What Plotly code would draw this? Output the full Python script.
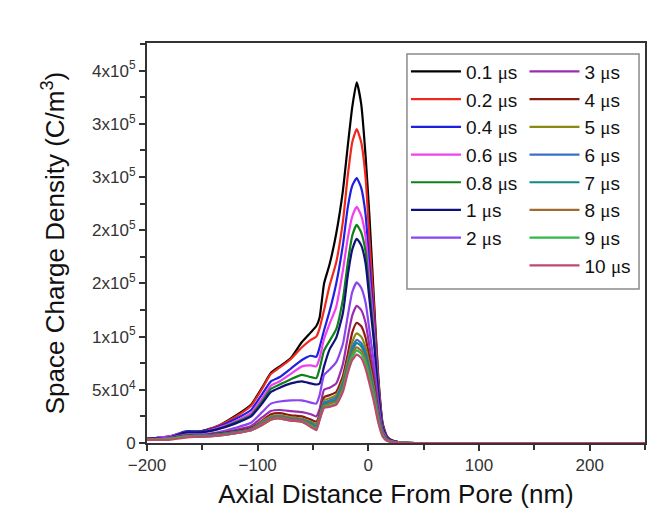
import plotly.graph_objects as go

# axial distance (nm) and space charge density (in 10^3 C/m^3)
x_nm = [-200, -180, -165, -151, -136, -121, -106, -96, -88, -80, -70, -60, -52, -47, -44, -40, -35,
        -29, -23, -18.5, -14.5, -10.5, -6.5, -2.5, 1, 5, 9, 13, 17, 22, 29, 42, 250]

t01 = [4, 6, 10, 11, 16, 25, 36, 52, 66, 72, 80, 95, 104, 110, 118, 150, 168, 197, 237, 280, 316, 339, 319, 270, 213, 136, 62, 18, 6, 2, 0.5, 0, 0]
t02 = [4, 6, 10, 11, 16, 24, 35, 51, 65, 71, 79, 90, 97, 100, 108, 125, 148, 170, 208, 252, 283, 295, 283, 250, 192, 128, 60, 17, 6, 2, 0.5, 0, 0]
t04 = [4, 6, 11, 11, 15, 22, 31, 46, 58, 62, 70, 78, 82, 81, 90, 106, 124, 150, 186, 222, 242, 249, 240, 215, 168, 116, 55, 16, 5, 2, 0.5, 0, 0]
t06 = [4, 6, 10, 10, 14, 20, 28, 42, 54, 58, 65, 72, 73, 72, 80, 98, 112, 128, 162, 193, 213, 222, 214, 194, 153, 108, 52, 15, 5, 2, 0.5, 0, 0]
t08 = [4, 5, 10, 10, 13, 19, 26, 39, 51, 55, 60, 64, 62, 61, 70, 87, 96, 107, 135, 170, 195, 205, 198, 180, 143, 101, 49, 15, 5, 2, 0.5, 0, 0]
t1 = [4, 5, 10, 10, 13, 18, 25, 37, 48, 52, 56, 58, 56, 55, 56, 72, 88, 99, 122, 158, 182, 192, 186, 169, 135, 96, 47, 14, 5, 2, 0.5, 0, 0]
t2 = [3, 5, 8, 8, 10, 14, 19, 29, 37, 39, 40, 40, 38, 37, 45, 64, 69, 76, 93, 120, 142, 151, 146, 132, 106, 76, 38, 12, 4, 1.5, 0.5, 0, 0]
t3 = [3, 4, 7, 7, 9, 12, 16, 24, 30, 31, 30, 29, 27, 25, 32, 50, 52, 56, 74, 100, 120, 129, 125, 113, 91, 65, 32, 10, 3, 1, 0.3, 0, 0]
t4 = [3, 4, 7, 7, 9, 11, 14, 21, 27, 28, 26, 25, 22, 20, 27, 43, 45, 48, 63, 84, 104, 113, 110, 99, 80, 57, 28, 9, 3, 1, 0.3, 0, 0]
t5 = [3, 4, 6, 7, 8, 10, 13, 20, 25, 26, 24, 23, 20, 18, 25, 40, 42, 45, 59, 78, 95, 103, 100, 90, 73, 52, 26, 9, 3, 1, 0.3, 0, 0]
t6 = [3, 4, 6, 7, 8, 10, 13, 19, 24, 25, 23, 22, 19, 16, 24, 38, 40, 43, 56, 74, 90, 97, 94, 85, 69, 49, 25, 8, 3, 1, 0.3, 0, 0]
t7 = [3, 4, 6, 6, 8, 10, 12, 18, 23, 24, 22, 21, 18, 15, 23, 37, 38, 41, 54, 72, 87, 94, 91, 82, 67, 47, 24, 8, 2, 1, 0.3, 0, 0]
t8 = [3, 4, 6, 6, 7, 9, 12, 18, 23, 24, 22, 21, 17, 14, 23, 35, 37, 39, 52, 70, 84, 90, 87, 78, 63, 45, 22, 7, 2, 1, 0.3, 0, 0]
t9 = [3, 4, 6, 6, 7, 9, 12, 17, 22, 23, 21, 20, 16, 13, 22, 34, 35, 37, 50, 68, 81, 87, 84, 75, 60, 43, 21, 7, 2, 1, 0.3, 0, 0]
t10 = [3, 3, 5, 6, 7, 9, 12, 17, 22, 23, 21, 20, 15, 12, 22, 33, 34, 36, 48, 66, 78, 83, 80, 70, 56, 39, 19, 6, 2, 1, 0.3, 0, 0]

times = ["0.1", "0.2", "0.4", "0.6", "0.8", "1", "2", "3", "4", "5", "6", "7", "8", "9", "10"]
series = [t01, t02, t04, t06, t08, t1, t2, t3, t4, t5, t6, t7, t8, t9, t10]
colors = ["#000000", "#f0281c", "#1f1fe0", "#f040f0", "#108018", "#10107a", "#8a44f0",
          "#9a2cb0", "#8a1a14", "#8a8a10", "#3a70c8", "#10888a", "#a06a30", "#30b848", "#c04870"]

ytick_vals = [0, 5e4, 1e5, 1.5e5, 2e5, 2.5e5, 3e5, 3.5e5]
ytick_text = ["0", "5x10<sup>4</sup>", "1x10<sup>5</sup>", "2x10<sup>5</sup>", "2x10<sup>5</sup>",
              "3x10<sup>5</sup>", "3x10<sup>5</sup>", "4x10<sup>5</sup>"]

MU = '<span style="font-family:Liberation Serif">\u03bc</span>'

fig = go.Figure()
for i, (t, ys, c) in enumerate(zip(times, series, colors)):
    fig.add_trace(go.Scatter(
        x=x_nm, y=[v * 1000 for v in ys], mode="lines",
        line=dict(color=c, width=2.2, shape="spline", smoothing=0.5),
        name=t + " " + MU + "s",
        legend="legend" if i < 7 else "legend2",
    ))

axis_col = "#333333"
leg_font = dict(family="Liberation Sans, Arial", size=19, color="#111111")

# the page body adds an 8px offset, so margins are shifted to compensate
fig.update_layout(
    width=661, height=516,
    margin=dict(l=139, r=24, t=35, b=81, autoexpand=False),
    paper_bgcolor="white", plot_bgcolor="white",
    font=dict(family="Liberation Sans, Arial", color="#222222"),
    xaxis=dict(
        range=[-200, 250], tickvals=[-200, -100, 0, 100, 200],
        ticks="outside", ticklen=6, tickwidth=1.5, tickcolor=axis_col,
        minor=dict(dtick=50, tick0=0, ticks="outside", ticklen=5, tickwidth=1.5, tickcolor=axis_col),
        showline=True, linecolor=axis_col, linewidth=2, mirror=True,
        showgrid=False, zeroline=False,
        tickfont=dict(size=17, color="#333333"),
        title=dict(text="Axial Distance From Pore (nm)", font=dict(size=26, color="#111111"), standoff=10),
    ),
    yaxis=dict(
        range=[0, 3.76e5], tickvals=ytick_vals, ticktext=ytick_text,
        ticks="outside", ticklen=6, tickwidth=1.5, tickcolor=axis_col,
        minor=dict(dtick=2.5e4, tick0=0, ticks="outside", ticklen=5, tickwidth=1.5, tickcolor=axis_col),
        showline=True, linecolor=axis_col, linewidth=2, mirror=True,
        showgrid=False, zeroline=False,
        tickfont=dict(size=17, color="#333333"),
        title=dict(text="Space Charge Density (C/m<sup>3</sup>)", font=dict(size=26, color="#111111"), standoff=20),
    ),
    xaxis2=dict(
        overlaying="x", side="top", range=[-200, 250], dtick=50, tick0=0,
        ticks="inside", ticklen=5, tickwidth=1.5, tickcolor=axis_col,
        showticklabels=False, showgrid=False, zeroline=False, showline=False,
    ),
    yaxis2=dict(
        overlaying="y", side="right", range=[0, 3.76e5], dtick=2.5e4, tick0=0,
        ticks="inside", ticklen=5, tickwidth=1.5, tickcolor=axis_col,
        showticklabels=False, showgrid=False, zeroline=False, showline=False,
    ),
    legend=dict(x=0.52, y=0.976, xanchor="left", yanchor="top", bgcolor="rgba(0,0,0,0)",
                font=leg_font, itemwidth=50, tracegroupgap=0),
    legend2=dict(x=0.758, y=0.976, xanchor="left", yanchor="top", bgcolor="rgba(0,0,0,0)",
                 font=leg_font, itemwidth=50, tracegroupgap=0),
    shapes=[dict(type="rect", xref="paper", yref="paper", x0=0.522, x1=0.988, y0=0.385, y1=0.9725,
                 line=dict(color="#8a8a8a", width=1.5), fillcolor="rgba(255,255,255,0)")],
    showlegend=True,
)

fig.write_html("out.html")
